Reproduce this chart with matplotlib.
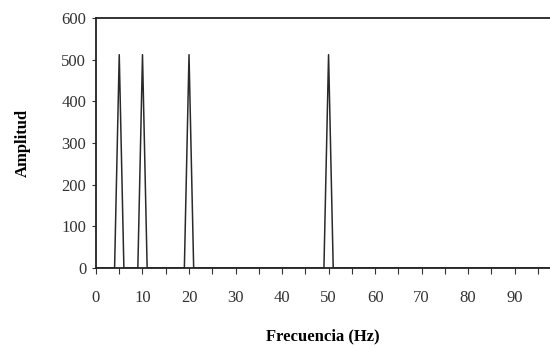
import numpy as np
import matplotlib.pyplot as plt
from matplotlib.ticker import MultipleLocator

# Espectro de amplitud: picos en 5, 10, 20 y 50 Hz
frecuencia = [0, 4, 5, 6, 9, 10, 11, 19, 20, 21, 49, 50, 51, 100]
amplitud = [0, 0, 512, 0, 0, 512, 0, 0, 512, 0, 0, 512, 0, 0]

plt.rcParams['font.family'] = ['Liberation Serif', 'DejaVu Serif']

fig = plt.figure(figsize=(5.5, 3.46), dpi=100)
ax = fig.add_axes([0.1745, 0.2254, 0.8255, 0.7225])

ax.plot(frecuencia, amplitud, color='#2a2a2a', linewidth=1.1)

ax.set_xlim(0, 97.6)
ax.set_ylim(0, 600)
ax.xaxis.set_major_locator(MultipleLocator(10))
ax.xaxis.set_minor_locator(MultipleLocator(5))
ax.yaxis.set_major_locator(MultipleLocator(100))

ax.tick_params(axis='both', which='both', direction='out', colors='#333333',
               labelsize=12, width=0.8)
ax.tick_params(axis='x', which='both', length=4, pad=12)
ax.tick_params(axis='y', length=3, pad=4)

for lado in ['left', 'bottom', 'top']:
    ax.spines[lado].set_linewidth(1.3)
    ax.spines[lado].set_color('#222222')
ax.spines['right'].set_visible(False)

ax.set_xlabel('Frecuencia (Hz)', fontsize=12, fontweight='bold', labelpad=16)
ax.set_ylabel('Amplitud', fontsize=12, fontweight='bold', labelpad=22)

plt.savefig('out.png', dpi=100)
